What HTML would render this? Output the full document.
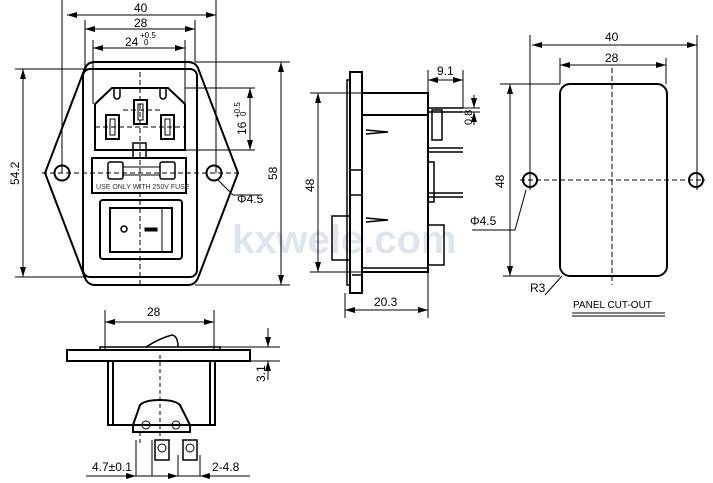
<!DOCTYPE html>
<html><head><meta charset="utf-8"><style>
html,body{margin:0;padding:0;background:#fff;}
svg{display:block;font-family:"Liberation Sans",sans-serif;}
</style></head><body>
<svg width="713" height="483" viewBox="0 0 713 483" xmlns="http://www.w3.org/2000/svg">
<defs>
<marker id="a" viewBox="0 0 10 6" refX="10" refY="3" markerWidth="10" markerHeight="6" orient="auto-start-reverse" markerUnits="userSpaceOnUse"><path d="M0,0L10,3L0,6z" fill="#000"/></marker>
</defs>
<text x="232" y="253" font-size="40" font-weight="bold" fill="#dde6ef">kxwele.com</text>
<g stroke="#000" fill="none" stroke-width="1">
<!-- FRONT VIEW -->
<path d="M95,62 L188,62 Q195,62 198,68 L238,173 L198,278 Q195,285 188,285 L95,285 Q88,285 85,278 L45,173 L85,68 Q88,62 95,62Z" stroke-width="2"/>
<rect x="83" y="69" width="114" height="208" rx="7" stroke-width="2"/>
<path d="M95,104 L112,88 L168,88 L185,104 L185,150 L95,150Z" stroke-width="2"/>
<path d="M114,88 v8 a3,3 0 0 0 6,0 v-8 M160,88 v8 a3,3 0 0 0 6,0 v-8" stroke-width="1.5"/>
<rect x="134" y="100" width="13" height="24" stroke-width="2"/><rect x="138" y="104" width="5" height="16"/>
<rect x="106" y="115" width="13" height="24" stroke-width="2"/><rect x="110" y="119" width="5" height="16"/>
<rect x="161" y="115" width="13" height="24" stroke-width="2"/><rect x="165" y="119" width="5" height="16"/>
<rect x="133" y="143" width="13" height="15" stroke-width="1.5"/>
<rect x="92" y="158" width="94" height="35" stroke-width="2"/>
<rect x="108" y="162" width="15" height="17" rx="2" stroke-width="1.5"/><rect x="160" y="162" width="15" height="17" rx="2" stroke-width="1.5"/>
<path d="M123,167 h37 M123,175 h37"/>
<rect x="100" y="200" width="82" height="59" rx="3" stroke-width="2"/>
<rect x="110" y="208" width="62" height="44" stroke-width="2"/>
<path d="M162,208 v44"/>
<circle cx="124" cy="229" r="3" stroke-width="1.5"/>
<rect x="145" y="228" width="12" height="3" fill="#000"/>
<circle cx="62" cy="173" r="7.5" stroke-width="2"/><circle cx="214" cy="173" r="7.5" stroke-width="2"/>
<path d="M140,72 V285 M42,173 H240 M123,110 h40 M95,127 h90" stroke-dasharray="5,3"/>
<!-- extension lines -->
<path d="M62,0 V173 M216,0 V173 M85,20 V69 M195,20 V62 M93,40 V104 M185,40 V104"/>
<path d="M67,15 H216" marker-start="url(#a)" marker-end="url(#a)"/>
<path d="M85,29 H195" marker-start="url(#a)" marker-end="url(#a)"/>
<path d="M93,48 H185" marker-start="url(#a)" marker-end="url(#a)"/>
<path d="M15,69 H95 M15,277 H95 M23,69 V277" />
<path d="M23,69 V277" marker-start="url(#a)" marker-end="url(#a)"/>
<path d="M195,62 H290 M195,285 H290"/>
<path d="M281,62 V285" marker-start="url(#a)" marker-end="url(#a)"/>
<path d="M185,88 H255 M185,150 H255"/>
<path d="M250,88 V150" marker-start="url(#a)" marker-end="url(#a)"/>
<path d="M218,180 L233,195 H262" />
<!-- SIDE VIEW -->
<rect x="350" y="72" width="12" height="221" stroke-width="2"/>
<path d="M350,80 h-3 v205 h3" stroke-width="1.5"/>
<path d="M362,93 H428 V272 H362 M362,115 H428 M362,170 H362" stroke-width="2"/>
<rect x="350" y="170" width="12" height="25" stroke-width="1.5"/>
<rect x="332" y="216" width="18" height="44" stroke-width="1.5"/>
<path d="M366,130 L388,132 L366,134 M366,218 L388,220 L366,222" stroke-width="1.5"/>
<path d="M428,108 h35 M428,112 h35 M428,148 h35 M428,152 h35 M428,193 h35 M428,197 h35" stroke-width="1.5"/>
<rect x="432" y="110" width="10" height="30" stroke-width="1.5"/>
<rect x="428" y="162" width="6" height="40" stroke-width="1.5"/>
<rect x="428" y="225" width="16" height="40" stroke-width="1.5"/>
<path d="M362,268 h66 M362,275 h-10" stroke-width="1.5"/>
<path d="M310,93 H362 M310,272 H362"/>
<path d="M318,93 V272" marker-start="url(#a)" marker-end="url(#a)"/>
<path d="M345,293 V318 M428,272 V318"/>
<path d="M345,310 H428" marker-start="url(#a)" marker-end="url(#a)"/>
<path d="M428,70 V93 M463,70 V108"/>
<path d="M428,80 H463" marker-start="url(#a)" marker-end="url(#a)"/>
<path d="M463,108 H480 M463,112 H480"/>
<path d="M474,95 V108" marker-end="url(#a)"/><path d="M474,125 V112" marker-end="url(#a)"/>
<!-- BOTTOM VIEW -->
<rect x="67" y="350" width="183" height="11" stroke-width="2"/>
<path d="M100,350 v-3 h120 v3" stroke-width="1.5"/>
<path d="M146,347 Q160,338 172,335 Q178,336 178,347" stroke-width="1.5"/>
<path d="M108,361 V425 H215 V361 M113,361 V425 M210,361 V425" stroke-width="2"/>
<path d="M133,425 L140,405 Q145,400 160,400 Q175,400 180,405 L190,425 L190,432 L133,432Z" stroke-width="2"/>
<circle cx="146" cy="425" r="4"/><circle cx="176" cy="425" r="4"/>
<rect x="155" y="440" width="14" height="20" stroke-width="1.5"/><rect x="183" y="440" width="14" height="20" stroke-width="1.5"/>
<circle cx="162" cy="448" r="4"/><circle cx="190" cy="448" r="4"/>
<path d="M140,432 v12 M160,355 V440" stroke-dasharray="4,3"/>
<path d="M105,310 V350 M214,310 V350"/>
<path d="M105,322 H214" marker-start="url(#a)" marker-end="url(#a)"/>
<path d="M220,347 H280 M250,361 H280"/>
<path d="M268,328 V347" marker-end="url(#a)"/><path d="M268,380 V361" marker-end="url(#a)"/>
<path d="M86,476 H250 M136,440 V476 M152,440 V476 M178,455 V476 M200,455 V476 M203,476 H245"/>
<path d="M118,476 H136" marker-end="url(#a)"/><path d="M165,476 H178" marker-end="url(#a)"/><path d="M215,476 H200" marker-end="url(#a)"/>
<!-- PANEL CUT-OUT -->
<rect x="560" y="84" width="107" height="192" rx="10" stroke-width="2"/>
<circle cx="530" cy="180" r="7" stroke-width="2"/><circle cx="696" cy="180" r="7" stroke-width="2"/>
<path d="M612,68 V285 M520,180 H705" stroke-dasharray="5,3"/>
<path d="M530,35 V190 M697,35 V190 M560,58 V84 M666,58 V84"/>
<path d="M532,45 H697" marker-start="url(#a)" marker-end="url(#a)"/>
<path d="M560,65 H666" marker-start="url(#a)" marker-end="url(#a)"/>
<path d="M500,84 H560 M503,276 H560"/>
<path d="M510,84 V276" marker-start="url(#a)" marker-end="url(#a)"/>
<path d="M472,230 H515 L526,190"/>
<path d="M545,295 L562,276"/>
<path d="M572,313 H665 M572,316 H665"/>
</g>
<g font-size="12" fill="#000">
<text x="134" y="12">40</text>
<text x="134" y="27">28</text>
<text x="125" y="46">24</text><text x="140" y="38" font-size="8">+0.5</text><text x="144" y="45" font-size="8">0</text>
<text x="96" y="189" font-size="7" fill="#333">USE ONLY WITH 250V FUSE</text>
<text x="237" y="203">Φ4.5</text>
<text transform="translate(19,185) rotate(-90)">54.2</text>
<text transform="translate(277,180) rotate(-90)">58</text>
<text transform="translate(246,135) rotate(-90)">16</text>
<text transform="translate(240,118) rotate(-90)" font-size="8">+0.5</text>
<text transform="translate(246,116) rotate(-90)" font-size="8">0</text>
<text transform="translate(314,192) rotate(-90)">48</text>
<text x="374" y="306">20.3</text>
<text x="437" y="75">9.1</text>
<text transform="translate(472,125) rotate(-90)" font-size="11">0.8</text>
<text x="470" y="225">Φ4.5</text>
<text x="147" y="316">28</text>
<text transform="translate(265,382) rotate(-90)">3.1</text>
<text x="92" y="471">4.7±0.1</text>
<text x="212" y="471">2-4.8</text>
<text x="605" y="41">40</text>
<text x="605" y="62">28</text>
<text transform="translate(504,188) rotate(-90)">48</text>
<text x="530" y="292">R3</text>
<text x="573" y="308" font-size="10">PANEL CUT-OUT</text>
</g>
</svg>
</body></html>
